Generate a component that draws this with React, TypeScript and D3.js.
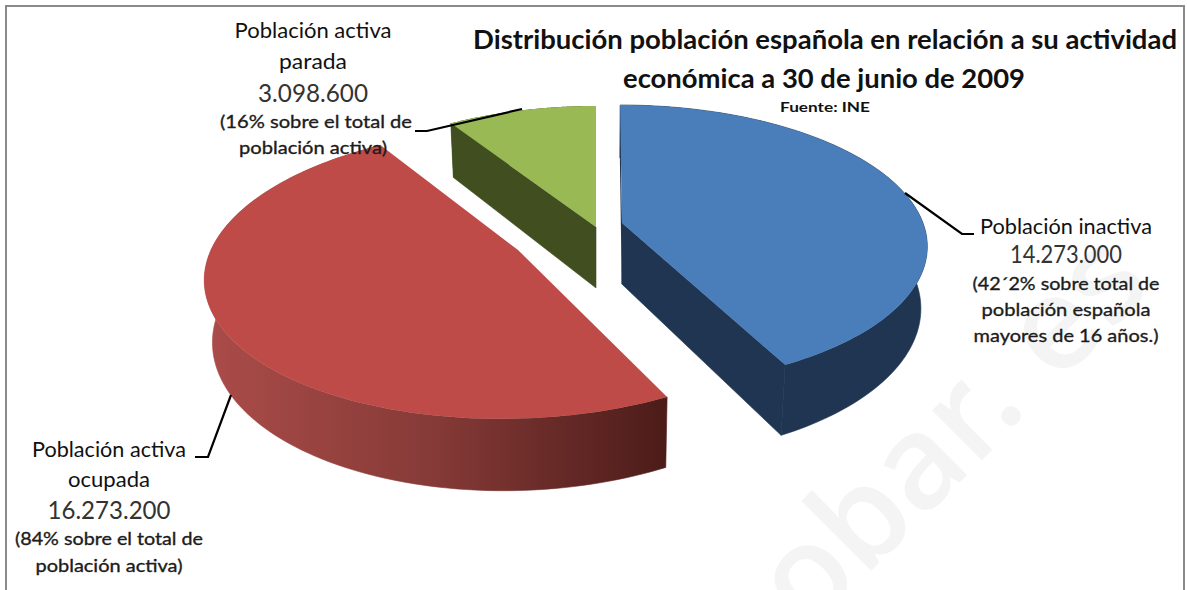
import React from "react";
import * as d3 from "d3";

// ---- data ----
const categories = ["Población inactiva", "Población activa ocupada", "Población activa parada"];
const values = [14273000, 16273200, 3098600];
const topColors = ["#4a7ebb", "#be4b48", "#98b954"];
const sideColors = ["#1f3552", "url(#redWall)", "#414f20"];

const titleLines = [
  "Distribución población española en relación a su actividad",
  "económica a 30 de junio de 2009",
];
const sourceText = "Fuente: INE";
const inactivaLines = ["Población inactiva", "14.273.000", "(42´2% sobre total de", "población española", "mayores de 16 años.)"];
const paradaLines = ["Población activa", "parada", "3.098.600", "(16% sobre el total de", "población activa)"];
const ocupadaLines = ["Población activa", "ocupada", "16.273.200", "(84% sobre el total de", "población activa)"];

// ---- layout ----
const W = 1187, H = 590;
const FONT = "Lato, Carlito, 'Open Sans', sans-serif";
const K = 0.16, RX = 301, RY = 140.4, DEPTH = 64;
const sliceLayout = [
  { x: 622, y: 223, ox: 14, sx: 1, sy: 0.975, showStart: true, showEnd: true },
  { x: 518, y: 250, ox: -90, sx: 1.02, sy: 1.01, showStart: false, showEnd: false },
  { x: 596, y: 227, ox: 0, sx: 1, sy: 1, showStart: true, showEnd: false },
];
type Slice = (typeof sliceLayout)[number];

type Style = { x: number; y: number; w: number; size: number; weight: number; fill: string; stroke: number };
const nameStyle = { size: 22, weight: 400, fill: "#111", stroke: 0 };
const valueStyle = { size: 25, weight: 400, fill: "#333", stroke: 0 };
const noteStyle = { size: 18, weight: 400, fill: "#1c1c1c", stroke: 0.35 };

const inactivaLayout: Style[] = [
  { x: 1066, y: 234, w: 172, ...nameStyle },
  { x: 1066, y: 263, w: 112, ...valueStyle },
  { x: 1066, y: 290, w: 187, ...noteStyle },
  { x: 1066, y: 316, w: 169, ...noteStyle },
  { x: 1066, y: 342, w: 185, ...noteStyle },
];
const paradaLayout: Style[] = [
  { x: 313, y: 38, w: 157, ...nameStyle },
  { x: 313, y: 69, w: 68, ...nameStyle },
  { x: 313, y: 102, w: 110, ...valueStyle },
  { x: 316, y: 128, w: 192, ...noteStyle },
  { x: 313, y: 154, w: 148, ...noteStyle },
];
const ocupadaLayout: Style[] = [
  { x: 109, y: 457, w: 154, ...nameStyle },
  { x: 109, y: 487, w: 82, ...nameStyle },
  { x: 109, y: 519, w: 123, ...valueStyle },
  { x: 109, y: 545, w: 188, ...noteStyle },
  { x: 109, y: 572, w: 147, ...noteStyle },
];
const leaderLines: [number, number][][] = [
  [[905, 193], [962, 234], [974, 234]],
  [[231, 395], [208, 457], [195, 457]],
  [[522, 109], [427, 131], [415, 131]],
];

// ---- perspective projection of a slice rim onto the screen ----
const project = (a: number, s: Slice, bottom: boolean): [number, number] => {
  const u = Math.sin(a), v = -Math.cos(a);
  const w = 1 - K * v;
  const wx = bottom ? w + 0.02 : w;
  const x = s.x + (RX * s.sx * u) / wx + s.ox * (1 / wx - 1);
  const y = s.y + (RY * s.sy * v) / w + (bottom ? DEPTH / (w + 0.05) : 0);
  return [x, y];
};
const apexPoint = (s: Slice, bottom: boolean): [number, number] => [
  s.x + s.ox * (bottom ? 1 / 1.02 - 1 : 0),
  s.y + (bottom ? DEPTH / 1.05 : 0),
];

const pieGen = d3.pie<number>().sort(null).startAngle(0).endAngle(2 * Math.PI);
const arcs = pieGen(values);
const line = d3.line();

const rim = (d: d3.PieArcDatum<number>, s: Slice, bottom: boolean) =>
  d3.range(0, 121).map((i) => project(d.startAngle + ((d.endAngle - d.startAngle) * i) / 120, s, bottom));

function TextBlock({ lines, layout }: { lines: string[]; layout: Style[] }) {
  return (
    <g textAnchor="middle" fontFamily={FONT}>
      {lines.map((t, i) => (
        <text key={i} x={layout[i].x} y={layout[i].y} fontSize={layout[i].size} fontWeight={layout[i].weight}
          fill={layout[i].fill} stroke={layout[i].stroke ? layout[i].fill : "none"} strokeWidth={layout[i].stroke}
          textLength={layout[i].w} lengthAdjust="spacingAndGlyphs">{t}</text>
      ))}
    </g>
  );
}

const wmProps = { fontFamily: "'Open Sans', sans-serif", fontSize: 130, fontWeight: 600, fill: "#f4f4f4" };

export default function App() {
  return (
    <svg width={W} height={H} viewBox={`0 0 ${W} ${H}`} style={{ position: "absolute", left: 0, top: 0, display: "block" }}>
      <defs>
        <linearGradient id="redWall" gradientUnits="userSpaceOnUse" x1={205} x2={666} y1={0} y2={0}>
          <stop offset="0" stopColor="#ab4c49" />
          <stop offset="0.5" stopColor="#853a37" />
          <stop offset="1" stopColor="#4c1c19" />
        </linearGradient>
      </defs>
      <rect width={W} height={H} fill="#fff" />

      {/* watermark */}
      <text transform="translate(1014,428) rotate(-45)" textAnchor="end" {...wmProps}>obar</text>
      <text transform="translate(1004,434) rotate(-45)" {...wmProps}>.</text>
      <text transform="translate(1057,385) rotate(-45)" {...wmProps}>es</text>

      {/* frame */}
      <rect x={6} y={6} width={1178} height={640} fill="none" stroke="#8a8a8a" strokeWidth={2} />

      {/* slices */}
      {arcs.map((d, i) => {
        const s = sliceLayout[i];
        const topRim = rim(d, s, false);
        const botRim = rim(d, s, true);
        const a0 = apexPoint(s, false), a1 = apexPoint(s, true);
        const side = sideColors[i];
        return (
          <g key={categories[i]}>
            {s.showStart && <path d={line([a0, topRim[0], botRim[0], a1])! + "Z"} fill={side} stroke={i === 2 ? side : "none"} strokeWidth={0.6} />}
            {s.showEnd && <path d={line([a0, topRim[120], botRim[120], a1])! + "Z"} fill={side} stroke={side} strokeWidth={0.6} />}
            <path d={line([...topRim, ...botRim.slice().reverse()])! + "Z"} fill={side} stroke={i === 2 ? "none" : side} strokeWidth={0.6} />
            <path d={line([a0, ...topRim])! + "Z"} fill={topColors[i]} />
          </g>
        );
      })}

      {/* leaders */}
      {leaderLines.map((l, i) => (
        <path key={i} d={line(l)!} fill="none" stroke="#000" strokeWidth={2.2} />
      ))}

      {/* title */}
      <g fontFamily={FONT} fontWeight={700} fill="#111" textAnchor="middle">
        <text x={825} y={49} fontSize={27} textLength={704} lengthAdjust="spacingAndGlyphs">{titleLines[0]}</text>
        <text x={824} y={88} fontSize={27} textLength={402} lengthAdjust="spacingAndGlyphs">{titleLines[1]}</text>
        <text x={825} y={112} fontSize={14} textLength={90} lengthAdjust="spacingAndGlyphs">{sourceText}</text>
      </g>

      <TextBlock lines={inactivaLines} layout={inactivaLayout} />
      <TextBlock lines={paradaLines} layout={paradaLayout} />
      <TextBlock lines={ocupadaLines} layout={ocupadaLayout} />
    </svg>
  );
}
